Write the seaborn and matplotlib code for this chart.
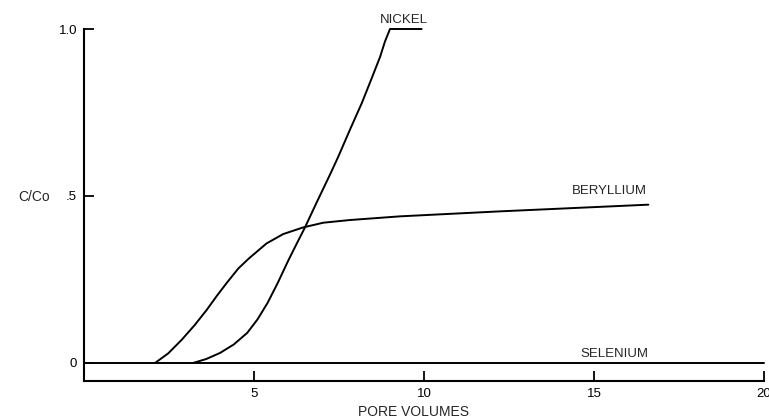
import matplotlib
matplotlib.use("Agg")
import matplotlib.pyplot as plt
import seaborn as sns
import pandas as pd

# ---- data ----
nickel_x = [3.21, 3.60, 4.00, 4.40, 4.80, 5.10, 5.40, 5.70, 6.00, 6.26, 6.50, 6.84, 7.24, 7.48,
            7.82, 8.17, 8.46, 8.71, 8.85, 9.00, 9.93]
nickel_y = [0.0, 0.012, 0.030, 0.055, 0.090, 0.130, 0.180, 0.240, 0.305, 0.358, 0.406, 0.480, 0.565, 0.618,
            0.698, 0.778, 0.852, 0.917, 0.962, 1.0, 1.0]

beryl_x = [2.09, 2.48, 2.87, 3.26, 3.61, 3.90, 4.20, 4.54, 4.85, 5.37, 5.86, 6.45, 7.04,
           7.82, 9.29, 12.24, 16.6]
beryl_y = [0.0, 0.029, 0.069, 0.114, 0.159, 0.200, 0.240, 0.283, 0.313, 0.358, 0.386, 0.406, 0.420,
           0.428, 0.439, 0.454, 0.474]

selen_x = [0.0, 20.0]
selen_y = [0.0, 0.0]

x_ticks = [5, 10, 15, 20]
x_ticklabels = ["5", "10", "15", "20"]
y_ticks = [0, 0.5, 1.0]
y_ticklabels = ["0", ".5", "1.0"]

series_labels = ["NICKEL", "BERYLLIUM", "SELENIUM"]

# ---- plot ----
sns.set_style("ticks")
plt.rcParams["font.family"] = ["Liberation Sans", "DejaVu Sans"]

fig = plt.figure(figsize=(7.69, 4.19), dpi=100)
ax = fig.add_axes([84 / 769, 1 - 381 / 419, (764 - 84) / 769, (381 - 29) / 419])

lw = 1.4
for xs, ys in [(nickel_x, nickel_y), (beryl_x, beryl_y), (selen_x, selen_y)]:
    df = pd.DataFrame({"x": xs, "y": ys})
    sns.lineplot(data=df, x="x", y="y", ax=ax, color="black", linewidth=lw,
                 sort=False, estimator=None, clip_on=False,
                 solid_joinstyle="round", solid_capstyle="round")

ax.set_xlim(0, 20)
ax.set_ylim(-0.054, 1.0)
ax.set_xticks(x_ticks)
ax.set_xticklabels(x_ticklabels)
ax.set_yticks(y_ticks)
ax.set_yticklabels(y_ticklabels)
ax.tick_params(axis="both", direction="in", length=7, width=1.3, labelsize=9.5,
               colors="black", pad=5)
for s in ["top", "right"]:
    ax.spines[s].set_visible(False)
for s in ["left", "bottom"]:
    ax.spines[s].set_linewidth(1.5)
    ax.spines[s].set_color("black")

ax.set_xlabel("")
ax.set_ylabel("")

fig.text(413 / 769, 1 - 412 / 419, "PORE VOLUMES", ha="center", va="center", fontsize=10)
fig.text(34 / 769, 1 - 197 / 419, "C/Co", ha="center", va="center", fontsize=10)

ax.text(9.4, 1.028, series_labels[0], ha="center", va="center", fontsize=9.5)
ax.text(15.45, 0.514, series_labels[1], ha="center", va="center", fontsize=9.5)
ax.text(15.6, 0.028, series_labels[2], ha="center", va="center", fontsize=9.5)

fig.savefig("out.png", dpi=100, facecolor="white")
